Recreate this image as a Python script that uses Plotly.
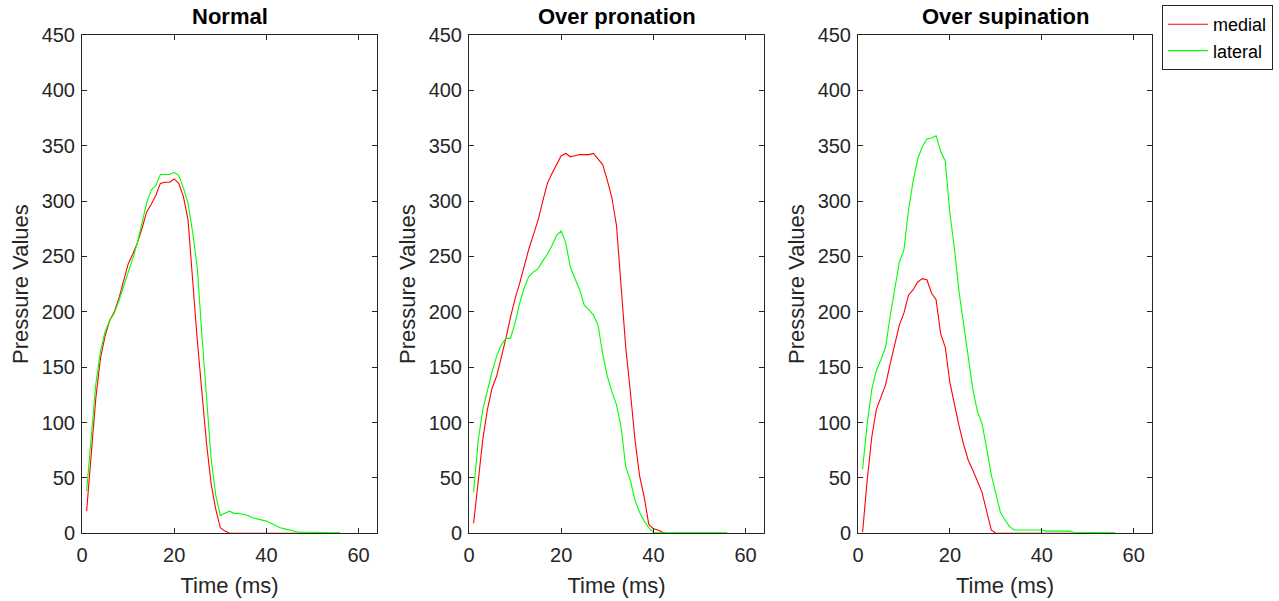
import plotly.graph_objects as go

time_ms = list(range(1, 57))

normal_medial = [20, 68, 122, 158, 178, 192, 200, 212, 228, 243,
                 252, 262, 275, 290, 297, 305, 316, 317, 317, 320,
                 316, 304, 283, 228, 175, 128, 82, 45, 22, 5,
                 2] + [0] * 25
normal_lateral = [38, 86, 135, 164, 182, 192, 199, 210, 222, 236,
                  248, 262, 280, 298, 310, 314, 324, 324, 324, 326,
                  323, 312, 298, 272, 240, 180, 120, 68, 35, 16,
                  18, 20, 18, 18, 17, 16, 14, 13, 12, 11,
                  9, 7, 5, 4, 3, 2, 1, 1, 1, 0.5,
                  0.5, 0.5, 0.5, 0.5, 0.5, 0.5]

pron_medial = [9, 48, 85, 112, 131, 142, 158, 176, 195, 212,
               226, 242, 257, 270, 283, 300, 316, 325, 333, 341,
               343, 340, 341, 342, 342, 342, 343, 338, 333, 319,
               303, 278, 225, 168, 128, 85, 52, 33, 8, 4,
               3, 1] + [0] * 14
pron_lateral = [37, 84, 112, 129, 146, 160, 170, 176, 176, 190,
                208, 222, 232, 236, 239, 246, 252, 260, 269, 273,
                262, 240, 230, 220, 206, 202, 197, 188, 162, 142,
                128, 116, 96, 60, 48, 30, 19, 11, 5, 1] + [0.5] * 16

sup_medial = [1, 48, 87, 112, 123, 134, 153, 171, 188, 199,
              215, 220, 227, 230, 229, 217, 211, 180, 168, 136,
              116, 97, 80, 66, 57, 47, 37, 20, 3, 0] + [0] * 26
sup_lateral = [58, 99, 130, 147, 157, 168, 196, 222, 245, 256,
               292, 318, 338, 349, 356, 357, 359, 345, 336, 289,
               257, 218, 187, 158, 130, 110, 99, 77, 53, 36,
               19, 12, 6, 3, 3, 3, 3, 3, 3, 3,
               2, 2, 2, 2, 2, 2, 1, 1, 1, 1,
               0.5, 0.5, 0.5, 0.5, 0.5, 0.5]

titles = ["Normal", "Over pronation", "Over supination"]
series = [(normal_medial, normal_lateral),
          (pron_medial, pron_lateral),
          (sup_medial, sup_lateral)]
x_ticks = [0, 20, 40, 60]
y_ticks = list(range(0, 451, 50))

W, H = 1279, 601
x_px = [(82, 377), (469, 764), (858, 1152)]
y_bot, y_top = 533.3, 35


def fx(px):
    return px / W


def fy(py):
    return 1 - py / H


fig = go.Figure()
AX = "#262626"
font = "Liberation Sans, Arial, Helvetica, sans-serif"

for i, (med, lat) in enumerate(series):
    n = "" if i == 0 else str(i + 1)
    fig.add_trace(go.Scatter(x=time_ms, y=med, mode="lines", name="medial",
                             line=dict(color="#FF0000", width=1.1),
                             xaxis="x" + n, yaxis="y" + n, showlegend=(i == 0)))
    fig.add_trace(go.Scatter(x=time_ms, y=lat, mode="lines", name="lateral",
                             line=dict(color="#00FF00", width=1.1),
                             xaxis="x" + n, yaxis="y" + n, showlegend=(i == 0)))
    xd = [fx(x_px[i][0]), fx(x_px[i][1])]
    yd = [fy(y_bot), fy(y_top)]
    common = dict(showline=True, linecolor=AX, linewidth=1, mirror="ticks",
                  ticks="inside", ticklen=5, tickcolor=AX, showgrid=False,
                  zeroline=False, automargin=False,
                  tickfont=dict(family=font, size=20, color=AX))
    fig.update_layout(**{
        "xaxis" + n: dict(domain=xd, range=[0, 64], tickvals=x_ticks,
                          anchor="y" + n, ticklabelstandoff=4,
                          title=dict(text="Time (ms)", font=dict(family=font, size=22, color=AX), standoff=12),
                          **common),
        "yaxis" + n: dict(domain=yd, range=[0, 450], tickvals=y_ticks,
                          anchor="x" + n, ticklabelstandoff=2,
                          title=dict(text="Pressure Values", font=dict(family=font, size=22, color=AX), standoff=6),
                          **common),
    })
    fig.add_annotation(text="<b>" + titles[i] + "</b>", xref="paper", yref="paper",
                       x=(fx(x_px[i][0]) + fx(x_px[i][1])) / 2, y=fy(17),
                       xanchor="center", yanchor="middle", showarrow=False,
                       font=dict(family=font, size=22, color="#000000"))

fig.update_layout(
    width=W, height=H,
    margin=dict(l=0, r=0, t=0, b=0, autoexpand=False),
    plot_bgcolor="white", paper_bgcolor="white",
    legend=dict(x=fx(1162), y=fy(5), xanchor="left", yanchor="top",
                bordercolor=AX, borderwidth=1, bgcolor="white",
                font=dict(family=font, size=18, color="#000000"),
                tracegroupgap=0, itemwidth=40),
)

fig.write_html("out.html", config={"displayModeBar": False},
               post_script="document.body.style.margin='0';document.body.style.padding='0';")
